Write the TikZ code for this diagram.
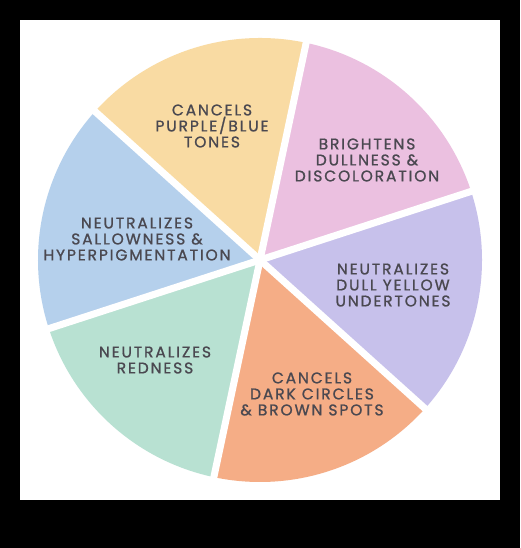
\documentclass[tikz,border=0pt]{standalone}
\usepackage{fontspec}
\setmainfont{Poppins}[LetterSpace=12,FakeBold=1]
\usetikzlibrary{positioning}
\definecolor{Pink}{HTML}{EBC0E0}
\definecolor{Yellow}{HTML}{F9DBA3}
\definecolor{Blue}{HTML}{B5D0EC}
\definecolor{Green}{HTML}{B8E1D2}
\definecolor{Orange}{HTML}{F5AD86}
\definecolor{Purple}{HTML}{C7C1EB}
\definecolor{Ink}{HTML}{4A4850}

\begin{document}
\begin{tikzpicture}[x=1pt,y=1pt,
    lbl/.style={text=Ink,align=center,inner sep=0pt,font=\fontsize{15.5}{16}\selectfont}]
  \fill[black] (0,0) rectangle (520,548);
  \fill[white] (20,48) rectangle (500,528);
  \coordinate (c) at (260,288);
  % slices, 60 degrees each
  \foreach \a/\col in {18/Pink,78/Yellow,138/Blue,198/Green,258/Orange,318/Purple}
    \fill[\col] (c) -- ++(\a:222) arc[start angle=\a,end angle=\a+60,radius=222] -- cycle;
  % white gaps between the slices
  \foreach \a in {18,78,...,318}
    \draw[white,line width=7pt] (c) -- ++(\a:232);
  \node[lbl] (purpleblue) at (212,422) {CANCELS\\PURPLE/BLUE\\TONES};
  \node[lbl] (dullness) at (367,388) {BRIGHTENS\\DULLNESS \&\\DISCOLORATION};
  \node[lbl] (sallowness) at (137,309) {NEUTRALIZES\\SALLOWNESS \&\\HYPERPIGMENTATION};
  \node[lbl] (yellowtones) at (393,263) {NEUTRALIZES\\DULL YELLOW\\UNDERTONES};
  \node[lbl] (redness) at (155,188) {NEUTRALIZES\\REDNESS};
  \node[lbl] (darkcircles) at (312,154) {CANCELS\\DARK CIRCLES\\\& BROWN SPOTS};
\end{tikzpicture}
\end{document}
